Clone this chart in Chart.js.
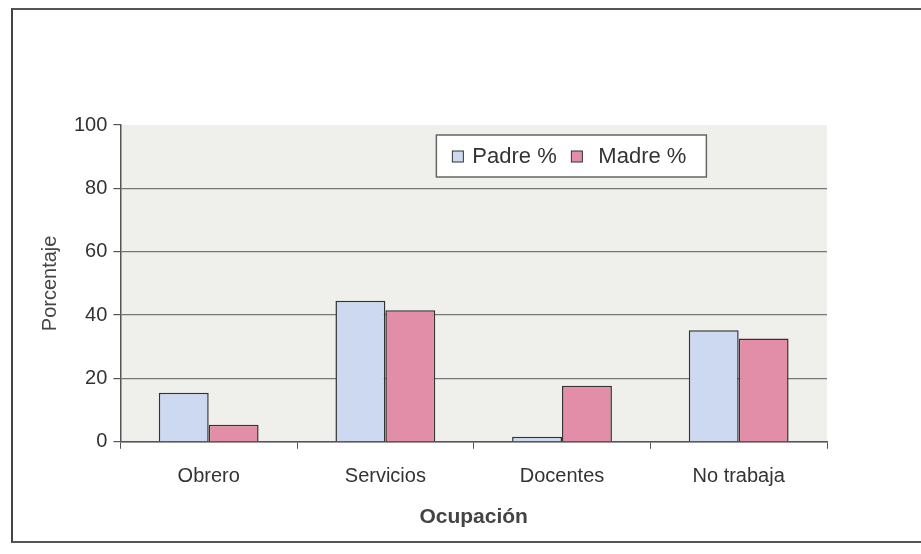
<!DOCTYPE html>
<html>
<head>
<meta charset="utf-8">
<script src="https://cdn.jsdelivr.net/npm/chart.js@4.4.0/dist/chart.umd.min.js"></script>
<style>
  html, body { margin: 0; padding: 0; background: #fff; }
  #wrap { position: relative; width: 921px; height: 554px; }
  #frame { position: absolute; left: 11px; top: 8px; width: 930px; height: 531px;
           border-left: 2px solid #444; border-top: 2px solid #555; border-bottom: 2px solid #555; }
  canvas { position: absolute; left: 0; top: 0; }
</style>
</head>
<body>
<div id="wrap">
  <div id="frame"></div>
  <canvas id="occChart" width="921" height="554"></canvas>
</div>
<script>
var categories = ["Obrero", "Servicios", "Docentes", "No trabaja"];
var padreValues = [15.5, 44.5, 1.6, 35.2];
var madreValues = [5.4, 41.5, 17.7, 32.6];
var yTicks = [0, 20, 40, 60, 80, 100];

var padreColor = "#cdd8f1";
var madreColor = "#e38ea9";
var fontFamily = "'Liberation Sans', Arial, sans-serif";

// gray plot background
var plotBackground = {
  id: "plotBackground",
  beforeDraw: function(chart) {
    var a = chart.chartArea, ctx = chart.ctx;
    ctx.save();
    ctx.fillStyle = "#efefeb";
    ctx.fillRect(a.left, a.top, a.right - a.left, a.bottom - a.top);
    ctx.restore();
  }
};

// legend box drawn inside the plot, like the original
var boxLegend = {
  id: "boxLegend",
  afterDraw: function(chart) {
    var a = chart.chartArea, ctx = chart.ctx;
    var x = a.left + 316, y = a.top + 10, w = 270, h = 42;
    ctx.save();
    ctx.fillStyle = "#fff";
    ctx.fillRect(x, y, w, h);
    ctx.strokeStyle = "#666";
    ctx.lineWidth = 1.5;
    ctx.strokeRect(x, y, w, h);
    ctx.font = "22px " + fontFamily;
    ctx.textBaseline = "middle";
    var items = [
      { label: chart.data.datasets[0].label, color: padreColor, sx: x + 16, tx: x + 36 },
      { label: chart.data.datasets[1].label, color: madreColor, sx: x + 135, tx: x + 162 }
    ];
    items.forEach(function(it) {
      ctx.fillStyle = it.color;
      ctx.fillRect(it.sx, y + h / 2 - 5, 11, 11);
      ctx.strokeStyle = "#333";
      ctx.lineWidth = 1;
      ctx.strokeRect(it.sx, y + h / 2 - 5, 11, 11);
      ctx.fillStyle = "#333";
      ctx.fillText(it.label, it.tx, y + h / 2 + 1);
    });
    ctx.restore();
  }
};

var chartCanvas = document.getElementById("occChart").getContext("2d");

var occChart = new Chart(chartCanvas, {
  type: "bar",
  data: {
    labels: categories,
    datasets: [{
      label: "Padre %",
      data: padreValues,
      backgroundColor: padreColor,
      borderColor: "#333",
      borderWidth: 1.5
    }, {
      label: "Madre %",
      data: madreValues,
      backgroundColor: madreColor,
      borderColor: "#333",
      borderWidth: 1.5
    }]
  },
  options: {
    responsive: false,
    animation: false,
    categoryPercentage: 0.565,
    barPercentage: 1.0,
    layout: { padding: { left: 38, right: 94, top: 125, bottom: 24 } },
    plugins: {
      legend: { display: false },
      tooltip: { enabled: false }
    },
    scales: {
      x: {
        grid: { display: true, drawOnChartArea: false, offset: true, tickLength: 7, color: "#555" },
        border: { color: "#555", width: 1.5 },
        ticks: { color: "#333", font: { family: fontFamily, size: 20 }, padding: 16 },
        title: {
          display: true,
          text: "Ocupación",
          color: "#444",
          font: { family: fontFamily, size: 21, weight: "bold" },
          padding: { top: 0, bottom: 0 }
        }
      },
      y: {
        min: 0,
        max: 100,
        afterBuildTicks: function(axis) {
          axis.ticks = yTicks.map(function(v) { return { value: v }; });
        },
        grid: {
          color: function(c) { return c.tick && c.tick.value === 100 ? "rgba(0,0,0,0)" : "#777"; },
          tickColor: "#555",
          tickLength: 7,
          lineWidth: 1.2
        },
        border: { color: "#555", width: 1.5 },
        ticks: { color: "#333", font: { family: fontFamily, size: 20 }, padding: 6 },
        title: {
          display: true,
          text: "Porcentaje",
          color: "#444",
          font: { family: fontFamily, size: 20 },
          padding: { top: 0, bottom: 6 }
        }
      }
    }
  },
  plugins: [plotBackground, boxLegend]
});
</script>
</body>
</html>
